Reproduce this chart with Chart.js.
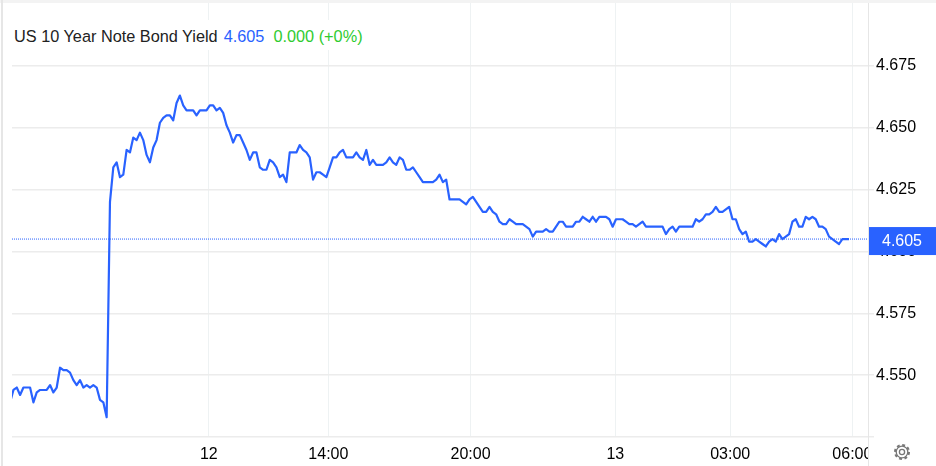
<!DOCTYPE html>
<html>
<head>
<meta charset="utf-8">
<title>US 10 Year Note Bond Yield</title>
<script src="https://cdn.jsdelivr.net/npm/chart.js@4/dist/chart.umd.min.js"></script>
<style>
    html, body { margin: 0; padding: 0; background: #fff; overflow: hidden; }
    #wrap { position: relative; width: 936px; height: 466px; font-family: "Liberation Sans", Arial, sans-serif; }
    #chart { position: absolute; left: 0; top: 0; }
    #topBand { position: absolute; left: 0; top: 0; width: 936px; height: 3px; background: #f3f3f3; }
    #leftBand { position: absolute; left: 1px; top: 0; width: 2px; height: 466px; background: #e6e6e6; }
    #title { position: absolute; left: 14px; top: 20px; height: 30px; line-height: 33px; padding-right: 4px; font-size: 16.3px; color: #222; background: #fff; white-space: pre; }
    #title .last { color: #2962ff; margin-left: 6px; }
    #title .change { color: #2fcb2f; margin-left: 9px; }
    #gear { position: absolute; left: 893px; top: 443px; }
</style>
</head>
<body>
<div id="wrap">
    <canvas id="chart" width="936" height="466"></canvas>
    <div id="topBand"></div>
    <div id="leftBand"></div>
    <div id="title">US 10 Year Note Bond Yield<span class="last">4.605</span><span class="change">0.000 (+0%)</span></div>
    <svg id="gear" width="18" height="18" viewBox="0 0 18 18" fill="none" stroke="#777">
        <circle cx="9" cy="9" r="2.6" stroke-width="1.3"/>
        <circle cx="9" cy="9" r="5.8" stroke-width="1.3"/>
        <circle cx="9" cy="9" r="7" stroke-width="2" stroke-dasharray="2.9 2.6"/>
    </svg>
</div>

<script>
// Yield readings, one per bar
const yields = [
    4.539, 4.544, 4.545, 4.542, 4.545, 4.545, 4.545, 4.539, 4.543, 4.544,
    4.544, 4.544, 4.546, 4.543, 4.545, 4.553, 4.552, 4.552, 4.551, 4.548,
    4.546, 4.548, 4.545, 4.546, 4.545, 4.546, 4.545, 4.540, 4.539, 4.533,
    4.620, 4.634, 4.636, 4.630, 4.631, 4.641, 4.640, 4.646, 4.645, 4.648,
    4.645, 4.639, 4.636, 4.642, 4.645, 4.652, 4.654, 4.655, 4.655, 4.653,
    4.660, 4.663, 4.659, 4.657, 4.657, 4.657, 4.655, 4.657, 4.657, 4.657,
    4.659, 4.659, 4.657, 4.658, 4.656, 4.651, 4.648, 4.644, 4.647, 4.647,
    4.644, 4.641, 4.637, 4.640, 4.640, 4.634, 4.633, 4.633, 4.637, 4.636,
    4.634, 4.630, 4.631, 4.628, 4.640, 4.640, 4.640, 4.643, 4.641, 4.640,
    4.638, 4.629, 4.632, 4.632, 4.631, 4.630, 4.634, 4.638, 4.638, 4.640,
    4.641, 4.638, 4.638, 4.638, 4.640, 4.638, 4.637, 4.641, 4.635, 4.637,
    4.635, 4.635, 4.635, 4.636, 4.638, 4.636, 4.635, 4.638, 4.637, 4.633,
    4.633, 4.634, 4.632, 4.630, 4.628, 4.628, 4.628, 4.628, 4.629, 4.631,
    4.628, 4.629, 4.621, 4.621, 4.621, 4.621, 4.620, 4.619, 4.621, 4.622,
    4.620, 4.618, 4.616, 4.616, 4.618, 4.616, 4.615, 4.612, 4.611, 4.611,
    4.613, 4.612, 4.611, 4.611, 4.611, 4.610, 4.609, 4.606, 4.608, 4.608,
    4.608, 4.609, 4.608, 4.608, 4.610, 4.612, 4.612, 4.610, 4.610, 4.610,
    4.612, 4.612, 4.614, 4.613, 4.612, 4.614, 4.612, 4.614, 4.614, 4.614,
    4.613, 4.610, 4.613, 4.613, 4.613, 4.612, 4.611, 4.611, 4.610, 4.611,
    4.612, 4.610, 4.610, 4.610, 4.610, 4.610, 4.610, 4.607, 4.609, 4.610,
    4.608, 4.610, 4.610, 4.610, 4.610, 4.610, 4.613, 4.612, 4.613, 4.615,
    4.615, 4.616, 4.618, 4.616, 4.616, 4.617, 4.618, 4.613, 4.613, 4.609,
    4.607, 4.608, 4.604, 4.604, 4.605, 4.604, 4.603, 4.602, 4.604, 4.605,
    4.604, 4.607, 4.605, 4.606, 4.607, 4.612, 4.613, 4.610, 4.610, 4.614,
    4.613, 4.614, 4.613, 4.610, 4.610, 4.609, 4.606, 4.605, 4.604, 4.603,
    4.605, 4.605, 4.605
];

const xTickBars = [59.7, 95.6, 138.3, 181.8, 216.3, 253];
const xTickLabels = ['12', '14:00', '20:00', '13', '03:00', '06:00'];
const yTickValues = [4.525, 4.55, 4.575, 4.6, 4.625, 4.65, 4.675];
const lastYield = 4.605;

const xMin = 0.57;
const xMax = 257.7;
const blue = '#2962ff';

// Last-price tag, axis border and the cut at the right of the time axis
const frame = {
    id: 'frame',
    afterDraw(chart) {
        const { ctx, chartArea, scales } = chart;
        const right = chartArea.right;
        ctx.save();
        ctx.fillStyle = '#fff';
        ctx.fillRect(right, chartArea.bottom + 1, 936 - right, 466 - chartArea.bottom);

        ctx.strokeStyle = '#e6e6e6';
        ctx.lineWidth = 1;
        ctx.beginPath();
        ctx.moveTo(right + 0.5, 3);
        ctx.lineTo(right + 0.5, 466);
        ctx.stroke();

        const y = scales.y.getPixelForValue(lastYield);
        ctx.fillStyle = blue;
        ctx.fillRect(right + 1, y - 12, 936 - right - 1, 28);
        ctx.fillStyle = '#fff';
        ctx.font = '16px "Liberation Sans", Arial, sans-serif';
        ctx.textAlign = 'center';
        ctx.textBaseline = 'middle';
        ctx.fillText(lastYield.toFixed(3), 902, y + 2.5);
        ctx.restore();
    }
};

new Chart(document.getElementById('chart').getContext('2d'), {
    type: 'line',
    plugins: [frame],
    data: {
        datasets: [
            {
                data: yields.map((value, i) => ({ x: i, y: value })),
                borderColor: blue,
                borderWidth: 2.2,
                borderJoinStyle: 'round',
                pointRadius: 0,
                tension: 0
            },
            {
                data: [{ x: xMin, y: lastYield }, { x: xMax, y: lastYield }],
                borderColor: blue,
                borderWidth: 1,
                borderDash: [1, 1],
                pointRadius: 0
            }
        ]
    },
    options: {
        responsive: false,
        animation: false,
        layout: { padding: { left: 12, top: 3, right: 0, bottom: 0 } },
        plugins: { legend: { display: false }, tooltip: { enabled: false } },
        scales: {
            x: {
                type: 'linear',
                min: xMin,
                max: xMax,
                afterBuildTicks: scale => { scale.ticks = xTickBars.map(value => ({ value })); },
                afterFit: scale => { scale.height = 29; },
                grid: { color: '#eef2f3', lineWidth: 1, drawTicks: false },
                border: { display: false },
                ticks: {
                    autoSkip: false,
                    maxRotation: 0,
                    padding: 8,
                    color: '#000',
                    font: { family: '"Liberation Sans", Arial, sans-serif', size: 16 },
                    callback: (value, i) => xTickLabels[i]
                }
            },
            y: {
                position: 'right',
                min: 4.525,
                max: 4.7004,
                afterBuildTicks: scale => { scale.ticks = yTickValues.map(value => ({ value })); },
                afterFit: scale => {
                    scale.width = 68;
                    // let the plot reach the top of the canvas, no room kept for tick labels
                    scale.paddingTop = 0;
                    scale.paddingBottom = 0;
                },
                grid: { color: '#ececec', lineWidth: 1.5, tickLength: 6 },
                border: { display: false },
                ticks: {
                    autoSkip: false,
                    padding: 2,
                    color: '#000',
                    font: { family: '"Liberation Sans", Arial, sans-serif', size: 16 },
                    callback: value => (value === 4.525 ? '' : value.toFixed(3))
                }
            }
        }
    }
});
</script>
</body>
</html>
